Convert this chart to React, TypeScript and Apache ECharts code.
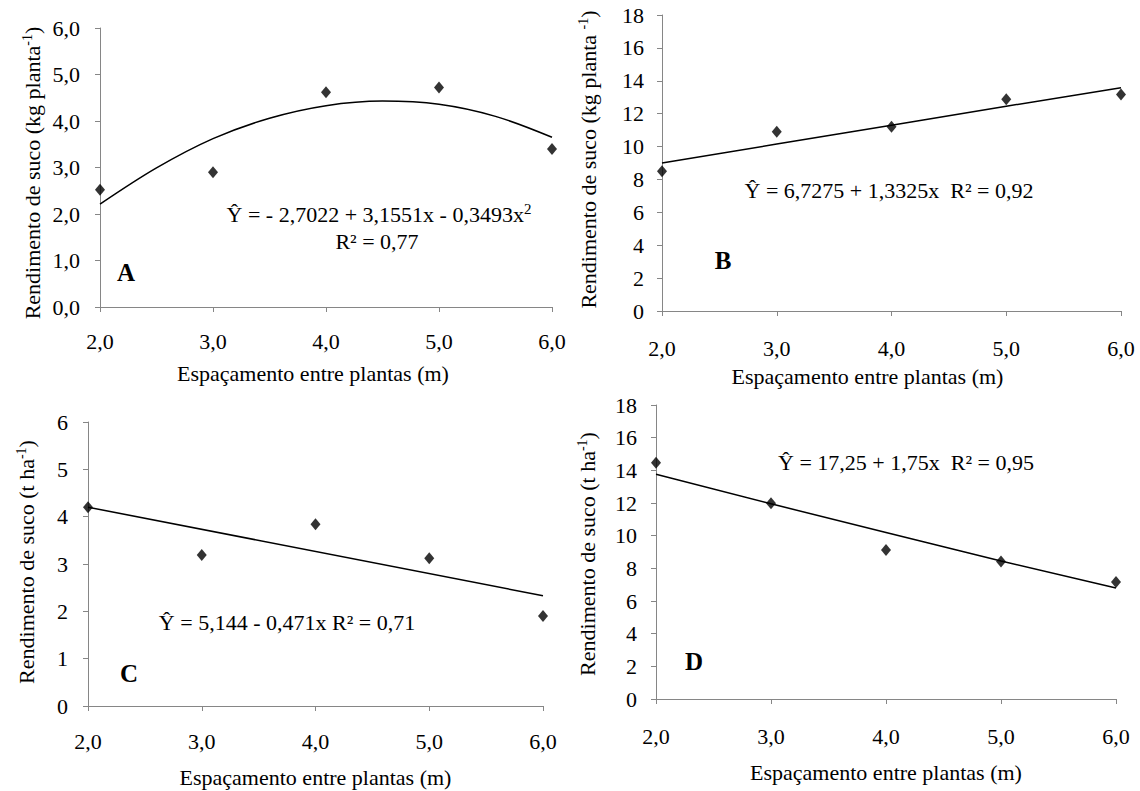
import React, { useEffect, useRef } from "react";
import * as echarts from "echarts";

// ---- data ----
const xTicks = [2, 3, 4, 5, 6];

// Panel A (kg planta-1)
const obsA = [2.52, 2.9, 4.62, 4.72, 3.4];
const fitAx = [2, 2.5, 3, 3.5, 4, 4.5, 5, 5.5, 6];
const fitAy = [2.21, 2.99, 3.62, 4.06, 4.33, 4.43, 4.36, 4.1, 3.65];

// Panel B (kg planta-1)
const obsB = [8.5, 10.9, 11.2, 12.88, 13.16];
const fitBx = [2, 3, 4, 5, 6];
const fitBy = [9.0, 10.15, 11.3, 12.45, 13.58];

// Panel C (t ha-1)
const obsC = [4.2, 3.19, 3.84, 3.12, 1.9];
const fitCx = [2, 6];
const fitCy = [4.2, 2.33];

// Panel D (t ha-1)
const obsD = [14.47, 11.99, 9.13, 8.42, 7.16];
const fitDx = [2, 3, 4, 5, 6];
const fitDy = [13.76, 11.95, 10.2, 8.45, 6.79];

const FONT = "Liberation Serif";
const AXIS_COLOR = "#868686";

const comma1 = (v: number) => v.toFixed(1).replace(".", ",");

export default function App() {
  const ref = useRef<HTMLDivElement>(null);

  useEffect(() => {
    if (!ref.current) return;
    const chart = echarts.init(ref.current, undefined, { renderer: "svg" });

    const grids = [
      { left: 100, top: 28, width: 452, height: 279 },
      { left: 662, top: 15, width: 459, height: 296 },
      { left: 88, top: 422, width: 455, height: 284 },
      { left: 656, top: 405, width: 460, height: 294 },
    ];

    const yNames = [
      "{a|Rendimento de suco (kg planta}{s|-1}{a|)}",
      "{a|Rendimento de suco (kg planta }{s|-1}{a|)}",
      "{a|Rendimento de suco (t ha}{s|-1}{a|)}",
      "{a|Rendimento de suco (t ha}{s|-1}{a|)}",
    ];
    const yMax = [6, 18, 6, 18];
    const yInt = [1, 2, 1, 2];
    const yFmt = [
      (v: number) => comma1(v),
      (v: number) => String(v),
      (v: number) => String(v),
      (v: number) => String(v),
    ];
    const yNameGap = [56, 62, 50, 57];
    const yNamePad = [
      [0, 11, 0, 0],
      [0, 0, 0, 7],
      [0, 0, 0, 4],
      [0, 4, 0, 0],
    ];
    const yLabelMargin = [20, 18, 20, 19];
    const xLabelMargin = [23, 26, 24, 26];
    const xNameGap = [55, 54, 60, 62];
    const xNamePad = [
      [0, 26, 0, 0],
      [0, 48, 0, 0],
      [0, 0, 0, 0],
      [0, 0, 0, 0],
    ];

    const richName = {
      a: { fontFamily: FONT, fontSize: 22, color: "#000", lineHeight: 24 },
      s: {
        fontFamily: FONT,
        fontSize: 14,
        color: "#000",
        lineHeight: 24,
        verticalAlign: "top" as const,
      },
    };

    const xAxis = grids.map((_, i) => ({
      type: "value" as const,
      gridIndex: i,
      min: 2,
      max: 6,
      interval: 1,
      name: "Espaçamento entre plantas (m)",
      nameLocation: "middle" as const,
      nameGap: xNameGap[i],
      nameTextStyle: { fontFamily: FONT, fontSize: 22, color: "#000", padding: xNamePad[i] },
      axisLine: { show: true, onZero: false, lineStyle: { color: AXIS_COLOR, width: 1 } },
      axisTick: { show: true, length: 5, inside: false, lineStyle: { color: AXIS_COLOR } },
      axisLabel: {
        fontFamily: FONT,
        fontSize: 22,
        color: "#000",
        margin: xLabelMargin[i],
        formatter: comma1,
      },
      splitLine: { show: false },
    }));

    const yAxis = grids.map((_, i) => ({
      type: "value" as const,
      gridIndex: i,
      min: 0,
      max: yMax[i],
      interval: yInt[i],
      name: yNames[i],
      nameLocation: "middle" as const,
      nameGap: yNameGap[i],
      nameTextStyle: { fontFamily: FONT, fontSize: 22, rich: richName, padding: yNamePad[i] },
      axisLine: { show: true, lineStyle: { color: AXIS_COLOR, width: 1 } },
      axisTick: { show: true, length: 5, inside: false, lineStyle: { color: AXIS_COLOR } },
      axisLabel: {
        fontFamily: FONT,
        fontSize: 22,
        color: "#000",
        margin: yLabelMargin[i],
        formatter: yFmt[i],
      },
      splitLine: { show: false },
    }));

    const obs = [obsA, obsB, obsC, obsD];
    const fits: [number[], number[]][] = [
      [fitAx, fitAy],
      [fitBx, fitBy],
      [fitCx, fitCy],
      [fitDx, fitDy],
    ];

    const series: any[] = [];
    grids.forEach((_, i) => {
      series.push({
        type: "line",
        xAxisIndex: i,
        yAxisIndex: i,
        smooth: i === 0 ? 0.35 : false,
        showSymbol: false,
        symbol: "none",
        lineStyle: { color: "#000", width: 1.5 },
        data: fits[i][0].map((x, k) => [x, fits[i][1][k]]),
        z: 2,
      });
      series.push({
        type: "scatter",
        xAxisIndex: i,
        yAxisIndex: i,
        symbol: "diamond",
        symbolSize: [10, 12],
        itemStyle: { color: "#000" },
        data: xTicks.map((x, k) => [x, obs[i][k]]),
        z: 3,
      });
    });

    const eqStyle = (text: string) => ({
      text,
      font: `22px ${FONT}`,
      fill: "#000",
      textAlign: "center",
      align: "center",
      textVerticalAlign: "middle",
      verticalAlign: "middle",
    });

    const letter = (x: number, y: number, t: string) => ({
      type: "text",
      x,
      y,
      style: {
        text: t,
        font: `bold 25px ${FONT}`,
        fill: "#000",
        textAlign: "center",
        align: "center",
        textVerticalAlign: "middle",
        verticalAlign: "middle",
      },
    });

    const graphic: any[] = [
      {
        type: "text",
        x: 379,
        y: 214,
        style: {
          ...eqStyle("{a|Ŷ = - 2,7022 + 3,1551x - 0,3493x}{s|2}"),
          rich: {
            a: { font: `22px ${FONT}`, fill: "#000", lineHeight: 26 },
            s: { font: `15px ${FONT}`, fill: "#000", lineHeight: 26, verticalAlign: "top" },
          },
        },
      },
      { type: "text", x: 377, y: 241, style: eqStyle("R² = 0,77") },
      letter(126, 272, "A"),
      { type: "text", x: 889, y: 190, style: eqStyle("Ŷ = 6,7275 + 1,3325x  R² = 0,92") },
      letter(723, 260, "B"),
      { type: "text", x: 287, y: 622, style: eqStyle("Ŷ = 5,144 - 0,471x R² = 0,71") },
      letter(129, 673, "C"),
      { type: "text", x: 906, y: 462, style: eqStyle("Ŷ = 17,25 + 1,75x  R² = 0,95") },
      letter(694, 661, "D"),
    ];

    chart.setOption({
      animation: false,
      backgroundColor: "#fff",
      textStyle: { fontFamily: FONT },
      grid: grids,
      xAxis,
      yAxis,
      series,
      graphic,
    });

    return () => chart.dispose();
  }, []);

  return (
    <div
      ref={ref}
      style={{ position: "absolute", left: 0, top: 0, width: 1140, height: 791 }}
    />
  );
}
